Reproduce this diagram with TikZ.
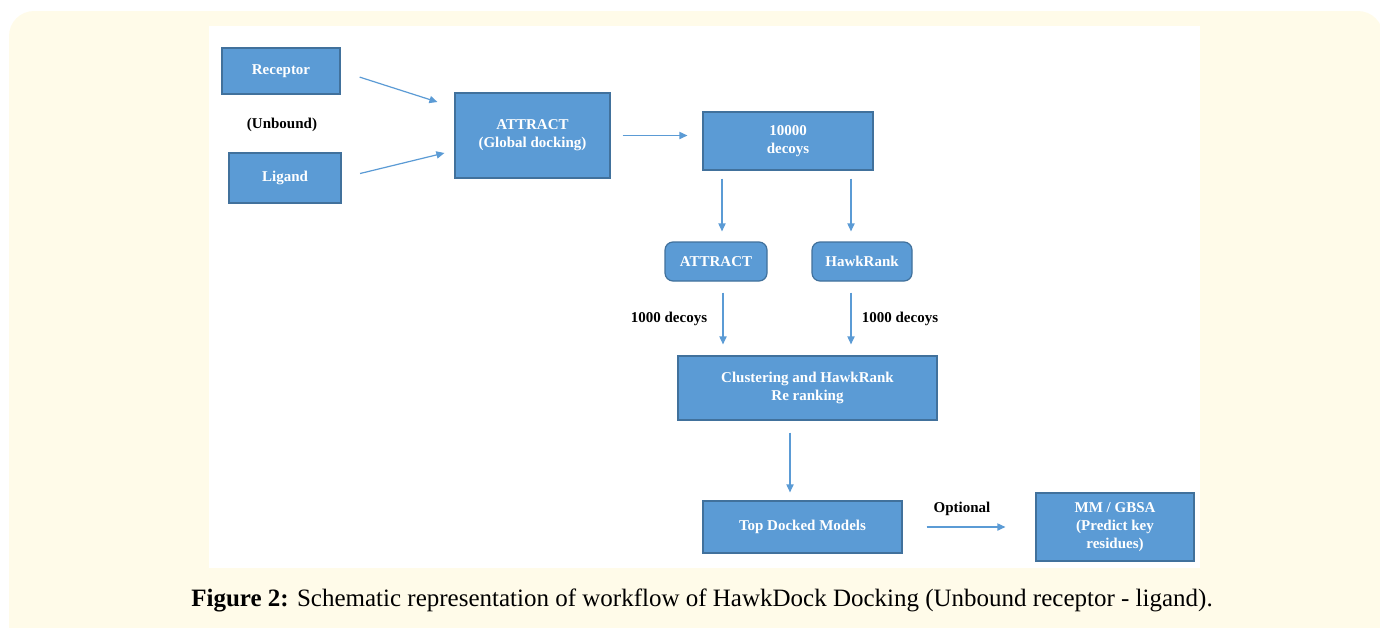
\documentclass[tikz,border=0pt]{standalone}
\usepackage{fontspec}
\setmainfont{Liberation Serif}
\usetikzlibrary{arrows.meta}
\definecolor{panelcream}{RGB}{255,251,233}
\definecolor{boxblue}{RGB}{91,155,213}
\definecolor{boxedge}{RGB}{65,113,156}
\definecolor{flowblue}{RGB}{91,155,213}
\tikzset{px/.style={x=0.5pt,y=-0.5pt}}
\tikzset{stepbox/.style={draw=boxedge,fill=boxblue,line width=0.6pt,text=white,
           font=\fontsize{7.5}{9}\selectfont\bfseries,align=center,inner sep=0pt},
         roundbox/.style={stepbox,rounded corners=4pt},
         flow/.style={flowblue,line width=0.6pt,-{Triangle[length=4pt,width=3.6pt]}},
         tag/.style={font=\fontsize{7.5}{9}\selectfont\bfseries,text=black,inner sep=0pt}}

\begin{document}
\begin{tikzpicture}[px]
    \useasboundingbox (0,0) rectangle (1380,627);
    \fill[panelcream,rounded corners=12.5pt] (9,11) rectangle (1383,660);
    \fill[white] (209,26) rectangle (1200,568);
    % boxes
    \node[stepbox,minimum width=59pt,minimum height=23pt] (rec) at (281,71) {Receptor};
    \node[stepbox,minimum width=56pt,minimum height=25pt] (lig) at (285,178) {Ligand};
    \node[tag] (unb) at (282,125) {(Unbound)};
    \node[stepbox,minimum width=77.5pt,minimum height=42.5pt] (glob) at (532.5,135.5) {ATTRACT\\(Global docking)};
    \node[stepbox,minimum width=85pt,minimum height=29pt] (dec) at (788,141) {10000\\decoys};
    \node[roundbox,minimum width=51pt,minimum height=19.5pt] (attr) at (716,261.5) {ATTRACT};
    \node[roundbox,minimum width=50pt,minimum height=19.5pt] (hawk) at (862,261.5) {HawkRank};
    \node[stepbox,minimum width=129.5pt,minimum height=32pt] (clus) at (807.5,388) {Clustering and HawkRank\\Re ranking};
    \node[stepbox,minimum width=99.5pt,minimum height=26pt] (top) at (802.5,527) {Top Docked Models};
    \node[stepbox,minimum width=79pt,minimum height=34pt] (mm) at (1115,527) {MM / GBSA\\(Predict key\\residues)};
    % connectors
    \draw[flow,shorten <=10pt] (rec.east) -- ([xshift=-8.5pt,yshift=16.75pt]glob.west);
    \draw[flow,shorten <=9.5pt] (lig.east) -- ([xshift=-5pt,yshift=-8.75pt]glob.west);
    \draw[flow,shorten <=6pt,shorten >=7.5pt] (glob.east) -- (glob.east -| dec.west);
    \draw[flow,shorten <=4pt,shorten >=5pt] ([xshift=3pt]attr.north |- dec.south) -- ([xshift=3pt]attr.north);
    \draw[flow,shorten <=4pt,shorten >=5pt] ([xshift=-5.5pt]hawk.north |- dec.south) -- ([xshift=-5.5pt]hawk.north);
    \draw[flow,shorten <=5.5pt,shorten >=5.5pt] ([xshift=3.5pt]attr.south) -- ([xshift=3.5pt]attr.south |- clus.north)
        node[tag,midway,xshift=-27pt] (lblA) {1000 decoys};
    \draw[flow,shorten <=5.5pt,shorten >=5.5pt] ([xshift=-5.5pt]hawk.south) -- ([xshift=-5.5pt]hawk.south |- clus.north)
        node[tag,midway,xshift=24.5pt] (lblB) {1000 decoys};
    \draw[flow,shorten <=6pt,shorten >=4pt] ([xshift=-6.25pt]top.north |- clus.south) -- ([xshift=-6.25pt]top.north);
    \draw[flow,shorten <=12pt,shorten >=15pt] (top.east) -- (top.east -| mm.west)
        node[tag,midway,xshift=-3.5pt,yshift=9pt] (opt) {Optional};
    % caption
    \node[inner sep=0pt,anchor=base] (cap) at (702,606)
        {\fontsize{12.5}{14}\selectfont\textbf{Figure 2:} Schematic representation of workflow of HawkDock Docking (Unbound receptor - ligand).};
\end{tikzpicture}
\end{document}
